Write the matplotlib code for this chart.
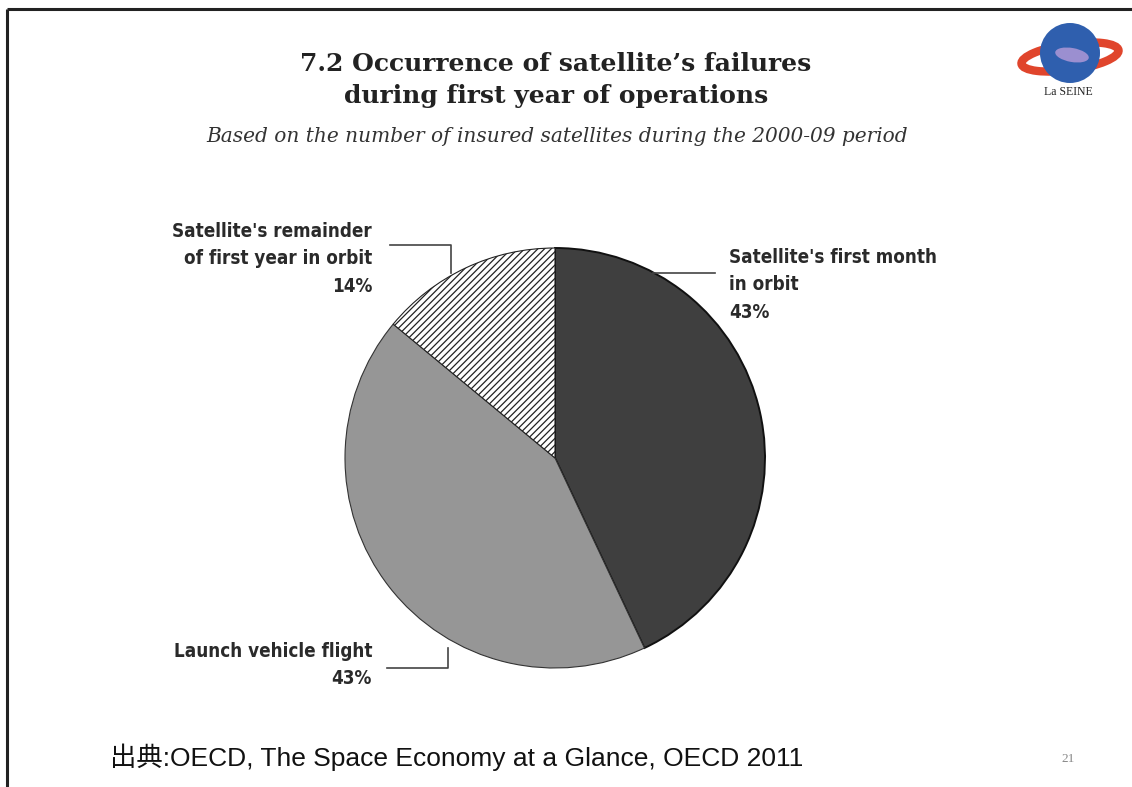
import numpy as np
import matplotlib
matplotlib.use("Agg")
from matplotlib import pyplot as plt
from matplotlib.patches import Circle, Ellipse

# chart data
segments = ["Satellite's first month\nin orbit", "Launch vehicle flight",
            "Satellite's remainder\nof first year in orbit"]
shares = [43, 43, 14]
share_labels = ["43%", "43%", "14%"]
slice_colors = ["#3f3f3f", "#969696", "white"]

title = "7.2 Occurrence of satellite’s failures\nduring first year of operations"
subtitle = "Based on the number of insured satellites during the 2000-09 period"
source = "出典:OECD, The Space Economy at a Glance, OECD 2011"
page_no = "21"

W, H = 1132, 787
plt.rcParams['hatch.linewidth'] = 0.9
fig = plt.figure(figsize=(W / 100, H / 100), dpi=100)
ax = fig.add_axes([0, 0, 1, 1])

def Y(y):
    # pixel row from top -> data y
    return H - y

# slide frame (top and left edges)
ax.plot([7, W], [Y(9), Y(9)], color="#222222", lw=2.2, solid_capstyle="butt")
ax.plot([7, 7], [Y(9), 0], color="#222222", lw=2.2, solid_capstyle="butt")

# pie
wedges, _ = ax.pie(shares, colors=slice_colors, startangle=90, counterclock=False,
                   center=(555, Y(458)), radius=210, frame=True,
                   wedgeprops=dict(edgecolor="#333333", linewidth=0.8))
wedges[0].set_edgecolor("#111111")
wedges[0].set_linewidth(1.4)
wedges[2].set_hatch("/" * 5)
wedges[2].set_edgecolor("#222222")
ax.set_xlim(0, W)
ax.set_ylim(0, H)
ax.set_aspect("equal")
ax.axis("off")

label_font = dict(family=["DejaVu Sans"], fontstretch="condensed", fontsize=13.5,
                  color="#2a2a2a", fontweight="semibold", linespacing=1.55)
lc = "#444444"

# first month label
ax.plot([653, 715], [Y(273), Y(273)], color=lc, lw=1.2)
ax.text(729, Y(248), segments[0] + "\n" + share_labels[0], ha="left", va="top", **label_font)

# remainder label
ax.plot([390, 451, 451], [Y(245), Y(245), Y(273)], color=lc, lw=1.2)
ax.text(372, Y(222), segments[2] + "\n" + share_labels[2], ha="right", va="top", **label_font)

# launch label
ax.plot([387, 448, 448], [Y(668), Y(668), Y(648)], color=lc, lw=1.2)
ax.text(372, Y(642), segments[1] + "\n" + share_labels[1], ha="right", va="top", **label_font)

# titles
ax.text(556, Y(80), title, ha="center", va="center", fontsize=18, fontweight="bold",
        family="DejaVu Serif", color="#222222", linespacing=1.45)
ax.text(557, Y(137), subtitle, ha="center", va="center", fontsize=14.5, style="italic",
        family="DejaVu Serif", color="#333333")

# source + page number
ax.text(110, Y(757), source, ha="left", va="center", fontsize=19,
        family=["Liberation Sans", "Noto Sans CJK JP"], color="#111111")
ax.text(1068, Y(759), page_no, ha="center", va="center", fontsize=9.5,
        family="Liberation Serif", color="#888888")

# logo
ax.add_patch(Ellipse((1070, Y(57)), 98, 26, angle=8, fill=False, edgecolor="#e0452c", lw=6))
ax.add_patch(Circle((1070, Y(53)), 30, facecolor="#2f5fae", edgecolor="none"))
ax.add_patch(Ellipse((1072, Y(55)), 34, 14, angle=-10, facecolor="#9b8fd0", edgecolor="none"))
ax.text(1068, Y(92), "La SEINE", ha="center", va="center", fontsize=8.5,
        family="Liberation Serif", color="#222222")

fig.savefig("out.png", dpi=100)
